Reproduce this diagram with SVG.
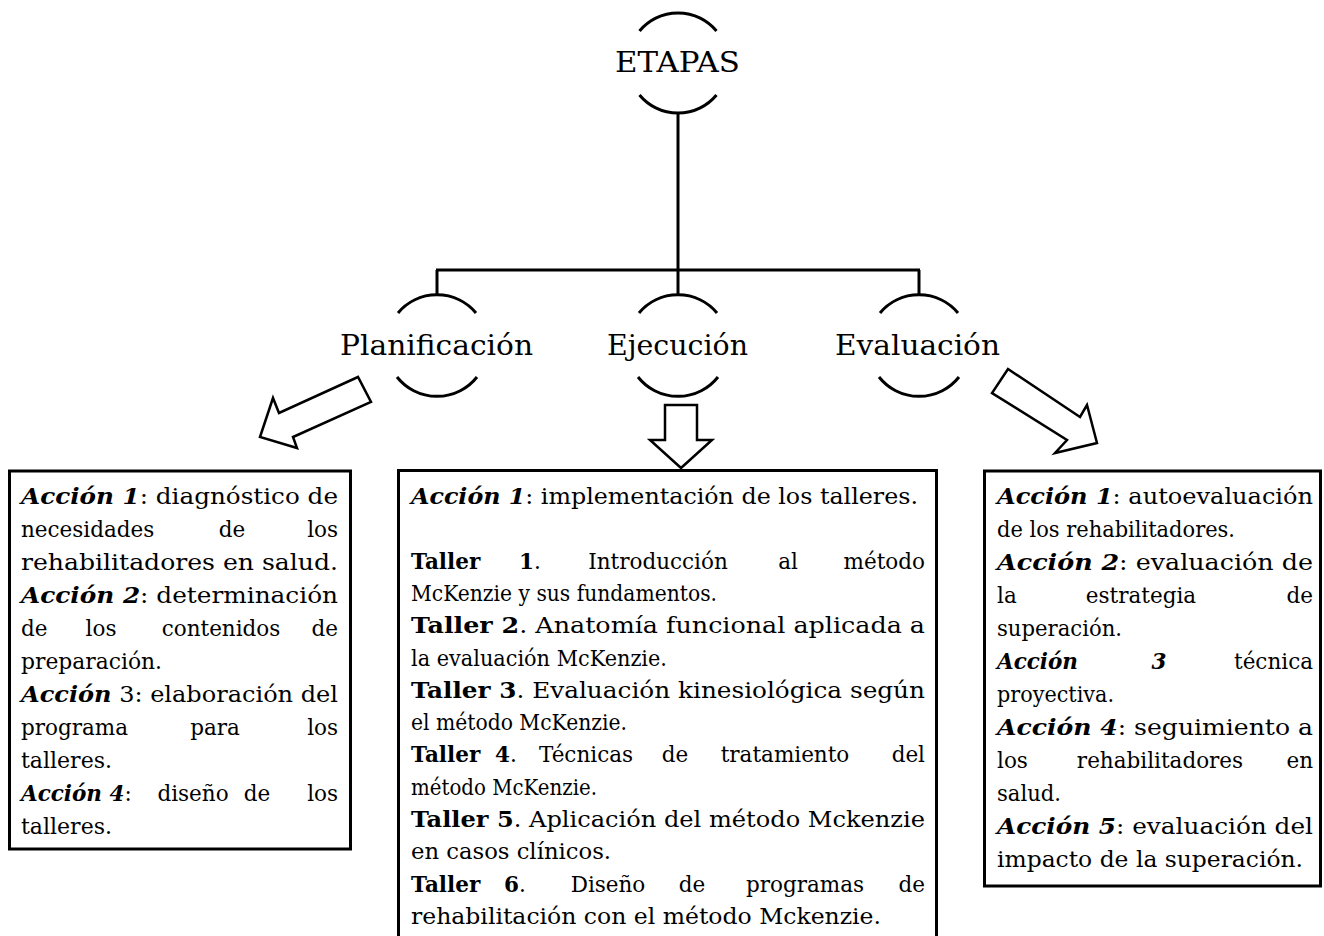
<svg xmlns="http://www.w3.org/2000/svg" width="1324" height="936" viewBox="0 0 1324 936">
<style>
.t{font-family:"DejaVu Serif","Liberation Serif",serif;font-size:21.5px;fill:#000}
.h{font-family:"DejaVu Serif","Liberation Serif",serif;font-size:28px;fill:#000}
.a{font-weight:bold;font-style:italic}
.b{font-weight:bold}
.ln{stroke:#000;stroke-width:3;fill:none}
.arc{stroke:#000;stroke-width:3;fill:none}
.arw{stroke:#000;stroke-width:2.5;fill:#fff;stroke-linejoin:miter}
.box{stroke:#000;stroke-width:3;fill:#fff}
</style>
<rect width="1324" height="936" fill="#fff"/>
<g id="connectors">
<path class="ln" d="M678,113 V296"/>
<path class="ln" d="M436,270 H920"/>
<path class="ln" d="M437,270 V296"/>
<path class="ln" d="M919,270 V296"/>
<polygon class="arw" points="358,377 279,413 273,398 260,437 297,448 293,437 371,402"/>
<polygon class="arw" points="665,405 697,405 697,440 712,440 681,468 650,440 665,440"/>
<polygon class="arw" points="1008,369 1080,417 1087,405 1097,443 1055,453 1067,440 992,393"/>
</g>
<g id="etapas">
<path class="arc" d="M639.5,31 A50,50 0 0 1 716.5,31"/>
<path class="arc" d="M639.5,95 A50,50 0 0 0 716.5,95"/>
<text class="h" x="615" y="72" textLength="125" lengthAdjust="spacingAndGlyphs">ETAPAS</text>
</g>
<g id="planificacion">
<path class="arc" d="M398,313 A51,51 0 0 1 476,313"/>
<path class="arc" d="M397,377 A51,51 0 0 0 477,377"/>
<text class="h" x="340" y="355" textLength="193" lengthAdjust="spacingAndGlyphs">Planificación</text>
</g>
<g id="ejecucion">
<path class="arc" d="M639,313 A51,51 0 0 1 717,313"/>
<path class="arc" d="M638,377 A51,51 0 0 0 718,377"/>
<text class="h" x="607" y="355" textLength="141" lengthAdjust="spacingAndGlyphs">Ejecución</text>
</g>
<g id="evaluacion">
<path class="arc" d="M880,313 A51,51 0 0 1 958,313"/>
<path class="arc" d="M879,377 A51,51 0 0 0 959,377"/>
<text class="h" x="835" y="355" textLength="165" lengthAdjust="spacingAndGlyphs">Evaluación</text>
</g>
<g id="box-planificacion">
<rect class="box" x="9.5" y="471" width="341" height="378"/>
<text class="t" x="21" y="504" textLength="317" lengthAdjust="spacingAndGlyphs"><tspan class="a">Acción 1</tspan>: diagnóstico de</text>
<text class="t" x="21" y="537">necesidades</text>
<text class="t" x="232" y="537" text-anchor="middle">de</text>
<text class="t" x="338" y="537" text-anchor="end">los</text>
<text class="t" x="21" y="570" textLength="317" lengthAdjust="spacingAndGlyphs">rehabilitadores en salud.</text>
<text class="t" x="21" y="603" textLength="317" lengthAdjust="spacingAndGlyphs"><tspan class="a">Acción 2</tspan>: determinación</text>
<text class="t" x="21" y="636">de</text>
<text class="t" x="101" y="636" text-anchor="middle">los</text>
<text class="t" x="221" y="636" text-anchor="middle">contenidos</text>
<text class="t" x="338" y="636" text-anchor="end">de</text>
<text class="t" x="21" y="669" textLength="141" lengthAdjust="spacingAndGlyphs">preparación.</text>
<text class="t" x="21" y="702" textLength="317" lengthAdjust="spacingAndGlyphs"><tspan class="a">Acción</tspan> 3: elaboración del</text>
<text class="t" x="21" y="735">programa</text>
<text class="t" x="215" y="735" text-anchor="middle">para</text>
<text class="t" x="338" y="735" text-anchor="end">los</text>
<text class="t" x="21" y="768" textLength="91" lengthAdjust="spacingAndGlyphs">talleres.</text>
<text class="t" x="21" y="801"><tspan class="a">Acción 4</tspan>:</text>
<text class="t" x="193" y="801" text-anchor="middle">diseño</text>
<text class="t" x="257" y="801" text-anchor="middle">de</text>
<text class="t" x="338" y="801" text-anchor="end">los</text>
<text class="t" x="21" y="834" textLength="91" lengthAdjust="spacingAndGlyphs">talleres.</text>
</g>
<g id="box-ejecucion">
<path class="box" d="M398.5,945 V470.5 H936.5 V945"/>
<text class="t" x="411" y="504" textLength="507" lengthAdjust="spacingAndGlyphs"><tspan class="a">Acción 1</tspan>: implementación de los talleres.</text>
<text class="t b" x="411" y="568.6">Taller</text>
<text class="t" x="530" y="568.6" text-anchor="middle"><tspan class="b">1</tspan>.</text>
<text class="t" x="658" y="568.6" text-anchor="middle">Introducción</text>
<text class="t" x="788" y="568.6" text-anchor="middle">al</text>
<text class="t" x="925" y="568.6" text-anchor="end">método</text>
<text class="t" x="411" y="600.9" textLength="306" lengthAdjust="spacingAndGlyphs">McKenzie y sus fundamentos.</text>
<text class="t" x="411" y="633.2" textLength="514" lengthAdjust="spacingAndGlyphs"><tspan class="b">Taller 2</tspan>.  Anatomía funcional aplicada a</text>
<text class="t" x="411" y="665.5" textLength="256" lengthAdjust="spacingAndGlyphs">la evaluación McKenzie.</text>
<text class="t" x="411" y="697.8" textLength="514" lengthAdjust="spacingAndGlyphs"><tspan class="b">Taller 3</tspan>. Evaluación kinesiológica según</text>
<text class="t" x="411" y="730.1" textLength="216" lengthAdjust="spacingAndGlyphs">el método McKenzie.</text>
<text class="t b" x="411" y="762.4">Taller</text>
<text class="t" x="506" y="762.4" text-anchor="middle"><tspan class="b">4</tspan>.</text>
<text class="t" x="586" y="762.4" text-anchor="middle">Técnicas</text>
<text class="t" x="675" y="762.4" text-anchor="middle">de</text>
<text class="t" x="785" y="762.4" text-anchor="middle">tratamiento</text>
<text class="t" x="925" y="762.4" text-anchor="end">del</text>
<text class="t" x="411" y="794.7" textLength="186" lengthAdjust="spacingAndGlyphs">método McKenzie.</text>
<text class="t" x="411" y="827" textLength="514" lengthAdjust="spacingAndGlyphs"><tspan class="b">Taller 5</tspan>. Aplicación del método Mckenzie</text>
<text class="t" x="411" y="859.3" textLength="200" lengthAdjust="spacingAndGlyphs">en casos clínicos.</text>
<text class="t b" x="411" y="891.6">Taller</text>
<text class="t" x="515" y="891.6" text-anchor="middle"><tspan class="b">6</tspan>.</text>
<text class="t" x="608" y="891.6" text-anchor="middle">Diseño</text>
<text class="t" x="692" y="891.6" text-anchor="middle">de</text>
<text class="t" x="805" y="891.6" text-anchor="middle">programas</text>
<text class="t" x="925" y="891.6" text-anchor="end">de</text>
<text class="t" x="411" y="923.9" textLength="470" lengthAdjust="spacingAndGlyphs">rehabilitación con el método Mckenzie.</text>
</g>
<g id="box-evaluacion">
<rect class="box" x="984.5" y="471" width="336" height="415"/>
<text class="t" x="997" y="504" textLength="316" lengthAdjust="spacingAndGlyphs"><tspan class="a">Acción 1</tspan>: autoevaluación</text>
<text class="t" x="997" y="537" textLength="238" lengthAdjust="spacingAndGlyphs">de los rehabilitadores.</text>
<text class="t" x="997" y="570" textLength="316" lengthAdjust="spacingAndGlyphs"><tspan class="a">Acción 2</tspan>: evaluación de</text>
<text class="t" x="997" y="603">la</text>
<text class="t" x="1141" y="603" text-anchor="middle">estrategia</text>
<text class="t" x="1313" y="603" text-anchor="end">de</text>
<text class="t" x="997" y="636" textLength="125" lengthAdjust="spacingAndGlyphs">superación.</text>
<text class="t a" x="997" y="669">Acción</text>
<text class="t a" x="1159" y="669" text-anchor="middle">3</text>
<text class="t" x="1313" y="669" text-anchor="end">técnica</text>
<text class="t" x="997" y="702" textLength="117" lengthAdjust="spacingAndGlyphs">proyectiva.</text>
<text class="t" x="997" y="735" textLength="316" lengthAdjust="spacingAndGlyphs"><tspan class="a">Acción 4</tspan>: seguimiento a</text>
<text class="t" x="997" y="768">los</text>
<text class="t" x="1160" y="768" text-anchor="middle">rehabilitadores</text>
<text class="t" x="1313" y="768" text-anchor="end">en</text>
<text class="t" x="997" y="801" textLength="64" lengthAdjust="spacingAndGlyphs">salud.</text>
<text class="t" x="997" y="834" textLength="316" lengthAdjust="spacingAndGlyphs"><tspan class="a">Acción 5</tspan>: evaluación del</text>
<text class="t" x="997" y="867" textLength="306" lengthAdjust="spacingAndGlyphs">impacto de la superación.</text>
</g>
</svg>
